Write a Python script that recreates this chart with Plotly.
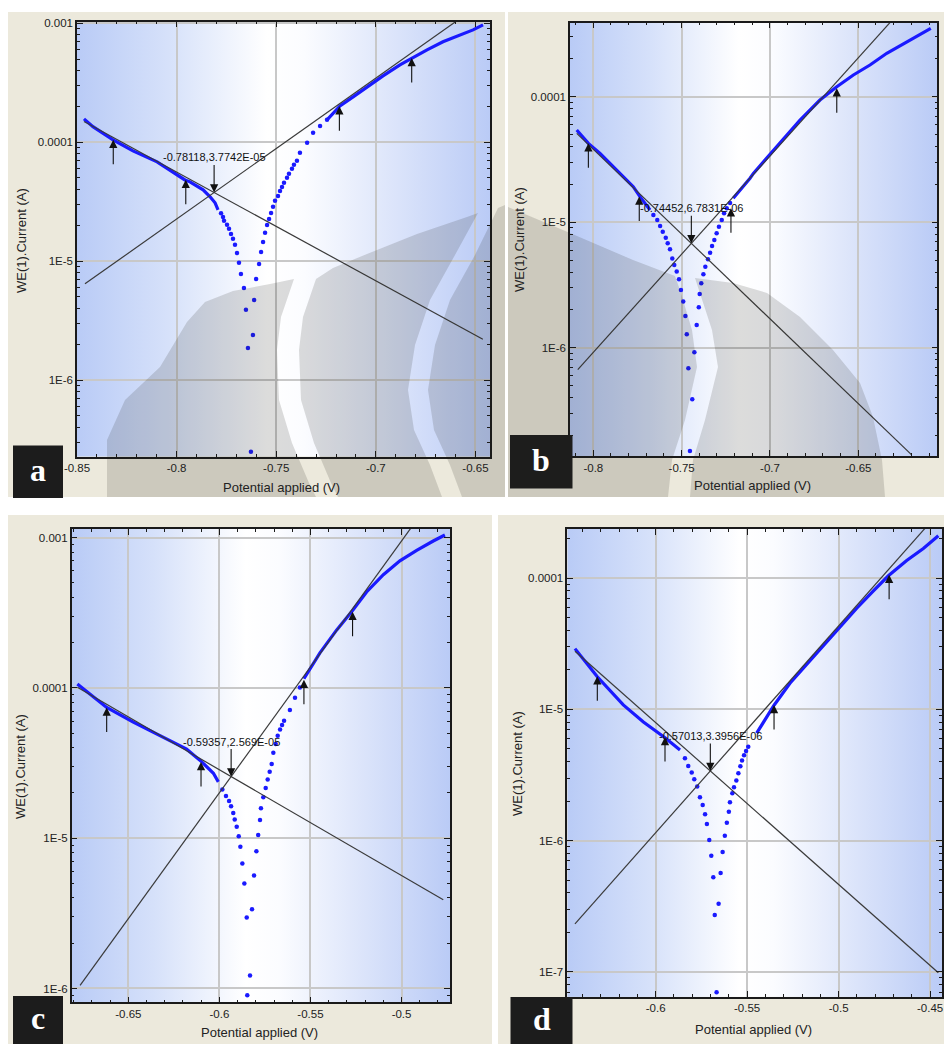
import base64
import math
import plotly.graph_objects as go

W, H = 944, 1044

# ---------------- Panel a ----------------
a_cath_E = [-0.8465, -0.8420, -0.8319, -0.8219, -0.8098, -0.8018, -0.7958, -0.7933, -0.7867, -0.7832, -0.7807, -0.7792]
a_cath_I = [1.57e-4, 1.35e-4, 1.045e-4, 8.45e-5, 6.83e-5, 5.62e-5, 4.81e-5, 4.64e-5, 3.97e-5, 3.47e-5, 3.09e-5, 2.70e-5]
a_dip_E = [-0.7777, -0.7767, -0.7762, -0.7747, -0.7737, -0.7727, -0.7717, -0.7707, -0.7697, -0.7687, -0.7677, -0.7662,
           -0.7652, -0.7642, -0.7627, -0.7617, -0.7611, -0.7601, -0.7586, -0.7576, -0.7566, -0.7556, -0.7546, -0.7536,
           -0.7526, -0.7516, -0.7506, -0.7491, -0.7481, -0.7471, -0.7461, -0.7446, -0.7436, -0.7421, -0.7411, -0.7396,
           -0.7381, -0.7345, -0.7315, -0.7280, -0.7245]
a_dip_I = [2.53e-5, 2.35e-5, 2.18e-5, 2.02e-5, 1.87e-5, 1.69e-5, 1.54e-5, 1.37e-5, 1.17e-5, 9.66e-6, 7.80e-6, 5.95e-6,
           3.89e-6, 1.86e-6, 2.49e-7, 2.39e-6, 4.71e-6, 7.08e-6, 9.46e-6, 1.19e-5, 1.45e-5, 1.73e-5, 2.01e-5, 2.26e-5,
           2.54e-5, 2.86e-5, 3.21e-5, 3.53e-5, 3.89e-5, 4.20e-5, 4.55e-5, 5.01e-5, 5.42e-5, 5.97e-5, 6.45e-5, 6.97e-5,
           8.13e-5, 9.87e-5, 1.20e-4, 1.37e-4, 1.54e-4]
a_anod_E = [-0.7245, -0.7180, -0.7114, -0.7044, -0.6964, -0.6879, -0.6818, -0.6743, -0.6663, -0.6577, -0.6512, -0.6462]
a_anod_I = [1.54e-4, 2.02e-4, 2.40e-4, 2.92e-4, 3.61e-4, 4.47e-4, 5.12e-4, 5.97e-4, 6.98e-4, 7.98e-4, 8.79e-4, 9.68e-4]
a_arrow_E = [-0.8318, -0.7954, -0.7183, -0.6820]
a_arrow_I = [1.05e-4, 4.82e-5, 2.00e-4, 5.10e-4]
a_Ecorr, a_icorr, a_label = -0.78118, 3.7742e-05, "-0.78118,3.7742E-05"
a_beta = (0.0844, 0.1093)                 # anodic, cathodic Tafel slopes (V/decade)
a_anod_line = (-0.8460, -0.6590)
a_cath_line = (-0.8465, -0.6463)
a_xrange, a_yrange = (-0.85, -0.6427), (-6.645, -2.987)
a_xticks, a_xtext = [-0.85, -0.8, -0.75, -0.7, -0.65], ["-0.85", "-0.8", "-0.75", "-0.7", "-0.65"]
a_yticks, a_ytext = [1e-3, 1e-4, 1e-5, 1e-6], ["0.001", "0.0001", "1E-5", "1E-6"]

# ---------------- Panel b ----------------
b_cath_E = [-0.8094, -0.8028, -0.7962, -0.7868, -0.7774, -0.7736, -0.7707, -0.7679]
b_cath_I = [5.43e-5, 4.25e-5, 3.54e-5, 2.61e-5, 1.92e-5, 1.60e-5, 1.41e-5, 1.25e-5]
b_dip_E = [-0.7660, -0.7638, -0.7622, -0.7607, -0.7590, -0.7579, -0.7566, -0.7553, -0.7542, -0.7528, -0.7515,
           -0.7504, -0.7491, -0.7479, -0.7471, -0.7462, -0.7440, -0.7453, -0.7428, -0.7415, -0.7403, -0.7398,
           -0.7389, -0.7377, -0.7366, -0.7351, -0.7339, -0.7328, -0.7315, -0.7302, -0.7289, -0.7273, -0.7260,
           -0.7245, -0.7226]
b_dip_I = [1.14e-5, 1.04e-5, 9.33e-6, 8.40e-6, 7.52e-6, 6.79e-6, 6.08e-6, 5.15e-6, 4.56e-6, 4.04e-6, 3.51e-6,
           2.88e-6, 2.33e-6, 1.79e-6, 1.28e-6, 6.85e-7, 3.88e-7, 1.50e-7, 9.18e-7, 1.52e-6, 2.10e-6, 2.68e-6,
           3.26e-6, 3.85e-6, 4.42e-6, 5.06e-6, 5.71e-6, 6.46e-6, 7.21e-6, 8.16e-6, 9.21e-6, 1.04e-5, 1.18e-5,
           1.29e-5, 1.42e-5]
b_anod_E = [-0.7208, -0.7160, -0.7113, -0.7094, -0.6962, -0.6830, -0.6717, -0.6622, -0.6528, -0.6434, -0.6339,
            -0.6226, -0.6151, -0.6090]
b_anod_I = [1.55e-5, 1.86e-5, 2.24e-5, 2.45e-5, 4.00e-5, 6.52e-5, 9.41e-5, 1.20e-4, 1.49e-4, 1.79e-4, 2.22e-4,
            2.74e-4, 3.10e-4, 3.51e-4]
b_arrow_E = [-0.8028, -0.7740, -0.7221, -0.6622]
b_arrow_I = [4.25e-5, 1.60e-5, 1.29e-5, 1.17e-4]
b_Ecorr, b_icorr, b_label = -0.74452, 6.7831e-06, "-0.74452,6.7831E-06"
b_beta = (0.0639, 0.0740)
b_anod_line = (-0.8088, -0.6311)
b_cath_line = (-0.8094, -0.6198)
b_xrange, b_yrange = (-0.8132, -0.6053), (-6.863, -3.41)
b_xticks, b_xtext = [-0.8, -0.75, -0.7, -0.65], ["-0.8", "-0.75", "-0.7", "-0.65"]
b_yticks, b_ytext = [1e-4, 1e-5, 1e-6], ["0.0001", "1E-5", "1E-6"]

# ---------------- Panel c ----------------
c_cath_E = [-0.6780, -0.6619, -0.6473, -0.6326, -0.6180, -0.6097, -0.6061, -0.6033, -0.6006]
c_cath_I = [1.06e-4, 7.40e-5, 5.91e-5, 4.79e-5, 3.91e-5, 3.22e-5, 2.91e-5, 2.70e-5, 2.37e-5]
c_dip_E = [-0.5984, -0.5964, -0.5947, -0.5936, -0.5924, -0.5916, -0.5905, -0.5894, -0.5885, -0.5874, -0.5863,
           -0.5850, -0.5832, -0.5847, -0.5821, -0.5810, -0.5797, -0.5787, -0.5777, -0.5772, -0.5759, -0.5746,
           -0.5735, -0.5724, -0.5713, -0.5704, -0.5691, -0.5680, -0.5667, -0.5656, -0.5645, -0.5613, -0.5585,
           -0.5558]
c_dip_I = [2.11e-5, 1.91e-5, 1.77e-5, 1.63e-5, 1.47e-5, 1.33e-5, 1.19e-5, 1.03e-5, 8.77e-6, 6.79e-6, 5.00e-6,
           2.97e-6, 1.22e-6, 9.0e-7, 3.37e-6, 5.65e-6, 8.20e-6, 1.05e-5, 1.32e-5, 1.58e-5, 1.87e-5, 2.16e-5,
           2.46e-5, 2.77e-5, 3.11e-5, 3.70e-5, 4.23e-5, 4.80e-5, 5.29e-5, 5.65e-5, 6.04e-5, 7.13e-5, 8.59e-5,
           1.007e-4]
c_anod_E = [-0.5536, -0.5448, -0.5357, -0.5269, -0.5192, -0.5100, -0.5009, -0.4917, -0.4826, -0.4762]
c_anod_I = [1.15e-4, 1.71e-4, 2.42e-4, 3.27e-4, 4.34e-4, 5.66e-4, 7.00e-4, 8.22e-4, 9.48e-4, 1.04e-3]
c_arrow_E = [-0.6619, -0.6101, -0.5536, -0.5269]
c_arrow_I = [7.40e-5, 3.21e-5, 1.13e-4, 3.21e-4]
c_Ecorr, c_icorr, c_label = -0.59357, 2.569e-05, "-0.59357,2.569E-05"
c_beta = (0.0597, 0.1422)
c_anod_line = (-0.6765, -0.4950)
c_cath_line = (-0.6780, -0.4771)
c_xrange, c_yrange = (-0.6811, -0.4734), (-6.0925, -2.942)
c_xticks, c_xtext = [-0.65, -0.6, -0.55, -0.5], ["-0.65", "-0.6", "-0.55", "-0.5"]
c_yticks, c_ytext = [1e-3, 1e-4, 1e-5, 1e-6], ["0.001", "0.0001", "1E-5", "1E-6"]

# ---------------- Panel d ----------------
d_cath_E = [-0.6441, -0.6319, -0.6177, -0.6067, -0.5949, -0.5867]
d_cath_I = [2.90e-5, 1.77e-5, 1.08e-5, 8.00e-6, 6.08e-6, 4.91e-6]
d_dip_E = [-0.5840, -0.5822, -0.5803, -0.5789, -0.5773, -0.5758, -0.5743, -0.5730, -0.5720, -0.5707, -0.5696,
           -0.5685, -0.5677, -0.5667, -0.5656, -0.5645, -0.5634, -0.5622, -0.5611, -0.5600, -0.5594, -0.5581,
           -0.5572, -0.5559, -0.5548, -0.5537, -0.5528, -0.5517, -0.5506, -0.5494]
d_dip_I = [4.25e-6, 3.71e-6, 3.30e-6, 2.94e-6, 2.58e-6, 2.14e-6, 1.87e-6, 1.59e-6, 1.34e-6, 1.01e-6, 7.69e-7,
           5.26e-7, 2.72e-7, 7.0e-8, 3.31e-7, 5.68e-7, 8.20e-7, 1.09e-6, 1.37e-6, 1.66e-6, 1.96e-6, 2.30e-6,
           2.55e-6, 2.87e-6, 3.26e-6, 3.69e-6, 4.07e-6, 4.47e-6, 4.82e-6, 5.20e-6]
d_anod_E = [-0.5448, -0.5402, -0.5352, -0.5266, -0.5174, -0.5083, -0.4992, -0.4901, -0.4810, -0.4728, -0.4628,
            -0.4537, -0.4455]
d_anod_I = [6.58e-6, 8.30e-6, 1.08e-5, 1.58e-5, 2.20e-5, 3.05e-5, 4.27e-5, 5.89e-5, 7.98e-5, 1.04e-4, 1.36e-4,
            1.68e-4, 2.10e-4]
d_arrow_E = [-0.6319, -0.5949, -0.5353, -0.4724]
d_arrow_I = [1.79e-5, 6.15e-6, 1.08e-5, 1.06e-4]
d_Ecorr, d_icorr, d_label = -0.57013, 3.3956e-06, "-0.57013,3.3956E-06"
d_beta = (0.0635, 0.0811)
d_anod_line = (-0.6441, -0.4527)
d_cath_line = (-0.6441, -0.4455)
d_xrange, d_yrange = (-0.6483, -0.4435), (-7.19, -3.625)
d_xticks, d_xtext = [-0.6, -0.55, -0.5, -0.45], ["-0.6", "-0.55", "-0.5", "-0.45"]
d_yticks, d_ytext = [1e-4, 1e-5, 1e-6, 1e-7], ["0.0001", "1E-5", "1E-6", "1E-7"]

panel_letters = ["a", "b", "c", "d"]

# ---------------- layout geometry (pixels) ----------------
PLOT_BOX = {            # left, top, right, bottom of each plotting area
    "a": (77, 21.7, 490, 456.7),
    "b": (570, 22.7, 937.3, 456),
    "c": (71.7, 528.8, 450, 1002.4),
    "d": (567.3, 528.8, 942, 996.9),
}
FRAME_BOX = {           # beige window behind each chart
    "a": (8, 12, 505, 497),
    "b": (508, 12, 944, 497),
    "c": (8, 515, 492, 1044),
    "d": (498, 515, 944, 1044),
}
LETTER_BOX = {
    "a": (13, 445.5, 63, 498),
    "b": (510, 435, 572.5, 488.5),
    "c": (13, 996, 63, 1044),
    "d": (510.5, 997, 572.5, 1044),
}
XTITLE_POS = {"a": (281, 487), "b": (752, 485), "c": (259, 1032), "d": (753, 1029)}
YTITLE_POS = {"a": (21, 241), "b": (520, 240), "c": (20, 767), "d": (517, 764)}

# faint page watermark (pixel outlines) lying over the upper pair of charts
WATERMARK = [
    [(107, 497), (107, 440), (125, 400), (160, 367), (175, 342), (187, 322), (205, 302), (233, 291), (270, 284),
     (294, 279), (281, 317), (277, 350), (279, 400), (292, 443), (309, 483), (316, 497)],
    [(316, 279), (333, 268), (367, 254), (417, 234), (467, 217), (478, 213), (455, 255), (430, 300), (415, 345),
     (408, 390), (414, 430), (430, 465), (442, 497), (338, 497), (331, 483), (314, 443), (301, 400), (299, 350),
     (303, 317)],
    [(498, 208), (505, 205), (505, 497), (462, 497), (450, 465), (434, 430), (428, 390), (435, 345), (450, 300),
     (475, 255)],
    [(508, 207), (570, 233), (633, 260), (675, 276), (680, 290), (692, 330), (697, 367), (685, 420), (672, 460),
     (668, 497), (508, 497)],
    [(695, 278), (733, 283), (767, 293), (800, 317), (833, 350), (860, 383), (873, 417), (882, 460), (885, 497),
     (690, 497), (693, 460), (705, 420), (718, 367), (712, 330)],
]

BEIGE = "#ece9dc"
BLUE = "#1a1aff"
LINE = "#3a3a3a"
FONT = "Liberation Sans"


def fx(px):
    return px / W


def fy(py):
    return 1 - py / H


def gradient_uri():
    stops = [(0, "#b9cbf6"), (0.22, "#d6e1fa"), (0.46, "#ffffff"), (0.55, "#fbfcff"),
             (0.78, "#dae3fa"), (1, "#bacbf6")]
    st = "".join(f'<stop offset="{o}" stop-color="{c}"/>' for o, c in stops)
    svg = ('<svg xmlns="http://www.w3.org/2000/svg" width="200" height="20" viewBox="0 0 200 20" '
           'preserveAspectRatio="none"><defs><linearGradient id="g" x1="0" y1="0" x2="1" y2="0">'
           f'{st}</linearGradient></defs><rect width="200" height="20" fill="url(#g)"/></svg>')
    return "data:image/svg+xml;base64," + base64.b64encode(svg.encode()).decode()


def paper_text(px, py, text, size, family=FONT, color="#222", angle=0):
    return dict(x=fx(px), y=fy(py), xref="paper", yref="paper", text=text, showarrow=False,
                xanchor="center", yanchor="middle", textangle=angle,
                font=dict(family=family, size=size, color=color))


def paper_path(points):
    return "M " + " L ".join(f"{fx(x):.5f},{fy(y):.5f}" for x, y in points) + " Z"


panels = {
    "a": dict(cE=a_cath_E, cI=a_cath_I, dE=a_dip_E, dI=a_dip_I, aE=a_anod_E, aI=a_anod_I,
              arE=a_arrow_E, arI=a_arrow_I, Ecorr=a_Ecorr, icorr=a_icorr, label=a_label, beta=a_beta,
              aline=a_anod_line, cline=a_cath_line, xr=a_xrange, yr=a_yrange,
              xt=a_xticks, xtt=a_xtext, yt=a_yticks, ytt=a_ytext),
    "b": dict(cE=b_cath_E, cI=b_cath_I, dE=b_dip_E, dI=b_dip_I, aE=b_anod_E, aI=b_anod_I,
              arE=b_arrow_E, arI=b_arrow_I, Ecorr=b_Ecorr, icorr=b_icorr, label=b_label, beta=b_beta,
              aline=b_anod_line, cline=b_cath_line, xr=b_xrange, yr=b_yrange,
              xt=b_xticks, xtt=b_xtext, yt=b_yticks, ytt=b_ytext),
    "c": dict(cE=c_cath_E, cI=c_cath_I, dE=c_dip_E, dI=c_dip_I, aE=c_anod_E, aI=c_anod_I,
              arE=c_arrow_E, arI=c_arrow_I, Ecorr=c_Ecorr, icorr=c_icorr, label=c_label, beta=c_beta,
              aline=c_anod_line, cline=c_cath_line, xr=c_xrange, yr=c_yrange,
              xt=c_xticks, xtt=c_xtext, yt=c_yticks, ytt=c_ytext),
    "d": dict(cE=d_cath_E, cI=d_cath_I, dE=d_dip_E, dI=d_dip_I, aE=d_anod_E, aI=d_anod_I,
              arE=d_arrow_E, arI=d_arrow_I, Ecorr=d_Ecorr, icorr=d_icorr, label=d_label, beta=d_beta,
              aline=d_anod_line, cline=d_cath_line, xr=d_xrange, yr=d_yrange,
              xt=d_xticks, xtt=d_xtext, yt=d_yticks, ytt=d_ytext),
}

fig = go.Figure()
layout = dict(width=W, height=H, margin=dict(l=0, r=0, t=0, b=0, autoexpand=False), paper_bgcolor="white",
              plot_bgcolor="rgba(0,0,0,0)", showlegend=False, shapes=[], annotations=[], images=[],
              template="none")

grad = gradient_uri()

for k, key in enumerate(panel_letters):
    p = panels[key]
    sfx = "" if k == 0 else str(k + 1)
    xa, ya = "x" + sfx, "y" + sfx
    l, t, r, b = PLOT_BOX[key]

    layout["xaxis" + sfx] = dict(
        domain=[fx(l), fx(r)], range=list(p["xr"]), anchor=ya, automargin=False,
        showline=True, linecolor="#1a1a1a", linewidth=1.5, mirror="allticks",
        ticks="inside", ticklen=6, tickwidth=1.2, tickcolor="#1a1a1a",
        tickmode="array", tickvals=p["xt"], ticktext=p["xtt"],
        tickfont=dict(family=FONT, size=11.5, color="#222"),
        showgrid=True, gridcolor="#c8c8c8", gridwidth=1.6, zeroline=False,
        minor=dict(tickmode="linear", tick0=0, dtick=0.01, ticks="inside", ticklen=3,
                   tickcolor="#1a1a1a", tickwidth=1, showgrid=False),
    )
    layout["yaxis" + sfx] = dict(
        domain=[fy(b), fy(t)], type="log", range=list(p["yr"]), anchor=xa, automargin=False,
        showline=True, linecolor="#1a1a1a", linewidth=1.5, mirror="allticks",
        ticks="inside", ticklen=6, tickwidth=1.2, tickcolor="#1a1a1a",
        tickmode="array", tickvals=p["yt"], ticktext=p["ytt"],
        tickfont=dict(family=FONT, size=11.5, color="#222"),
        showgrid=True, gridcolor="#c8c8c8", gridwidth=1.6, zeroline=False,
        minor=dict(dtick="D1", ticks="inside", ticklen=3, tickcolor="#1a1a1a", tickwidth=1, showgrid=False),
    )

    # beige window and gradient plot background
    fl, ft, fr, fb = FRAME_BOX[key]
    layout["shapes"].append(dict(type="rect", xref="paper", yref="paper", layer="below",
                                 x0=fx(fl), x1=fx(fr), y0=fy(fb), y1=fy(ft),
                                 fillcolor=BEIGE, line=dict(width=0)))
    layout["images"].append(dict(source=grad, xref=xa + " domain", yref=ya + " domain",
                                 x=0, y=1, sizex=1, sizey=1, sizing="stretch",
                                 xanchor="left", yanchor="top", layer="below"))

    # measured polarisation curve
    fig.add_trace(go.Scatter(x=p["cE"], y=p["cI"], xaxis=xa, yaxis=ya, mode="lines",
                             line=dict(color=BLUE, width=3.2), hoverinfo="skip"))
    fig.add_trace(go.Scatter(x=p["aE"], y=p["aI"], xaxis=xa, yaxis=ya, mode="lines",
                             line=dict(color=BLUE, width=3.2), hoverinfo="skip"))
    fig.add_trace(go.Scatter(x=p["dE"], y=p["dI"], xaxis=xa, yaxis=ya, mode="markers",
                             marker=dict(color=BLUE, size=4.5), hoverinfo="skip"))

    # Tafel extrapolation lines through the corrosion point
    ba, bc = p["beta"]
    E0, i0 = p["Ecorr"], p["icorr"]
    aE = list(p["aline"])
    cE = list(p["cline"])
    aI = [i0 * 10 ** ((e - E0) / ba) for e in aE]
    cI = [i0 * 10 ** (-(e - E0) / bc) for e in cE]
    fig.add_trace(go.Scatter(x=aE, y=aI, xaxis=xa, yaxis=ya, mode="lines",
                             line=dict(color=LINE, width=1.2), hoverinfo="skip"))
    fig.add_trace(go.Scatter(x=cE, y=cI, xaxis=xa, yaxis=ya, mode="lines",
                             line=dict(color=LINE, width=1.2), hoverinfo="skip"))

    # fit-range markers
    for e, i in zip(p["arE"], p["arI"]):
        layout["annotations"].append(dict(
            x=e, y=math.log10(i), xref=xa, yref=ya, text="", showarrow=True,
            ax=0, ay=26, arrowhead=2, arrowsize=1.5, arrowwidth=1.1, arrowcolor="#111", standoff=0))

    # corrosion point label
    layout["annotations"].append(dict(
        x=E0, y=math.log10(i0), xref=xa, yref=ya, text=p["label"], showarrow=True,
        ax=0, ay=-35, arrowhead=2, arrowsize=1.5, arrowwidth=1.1, arrowcolor="#111", standoff=0,
        font=dict(family=FONT, size=11, color="#111")))

    # axis titles
    tx, ty = XTITLE_POS[key]
    layout["annotations"].append(paper_text(tx, ty, "Potential applied (V)", 13))
    tx, ty = YTITLE_POS[key]
    layout["annotations"].append(paper_text(tx, ty, "WE(1).Current (A)", 13, angle=-90))

    # panel letter
    ll, lt, lr, lb = LETTER_BOX[key]
    layout["shapes"].append(dict(type="rect", xref="paper", yref="paper", layer="above",
                                 x0=fx(ll), x1=fx(lr), y0=fy(lb), y1=fy(lt),
                                 fillcolor="#1c1c1c", line=dict(width=0)))
    layout["annotations"].append(paper_text((ll + lr) / 2, (lt + lb) / 2 - 2, f"<b>{key}</b>", 32,
                                            family="Liberation Serif", color="white"))

for outline in WATERMARK:
    layout["shapes"].append(dict(type="path", xref="paper", yref="paper", layer="above",
                                 path=paper_path(outline), fillcolor="rgba(40,40,30,0.16)",
                                 line=dict(width=0)))

fig.update_layout(**layout)
fig.write_html("out.html")
